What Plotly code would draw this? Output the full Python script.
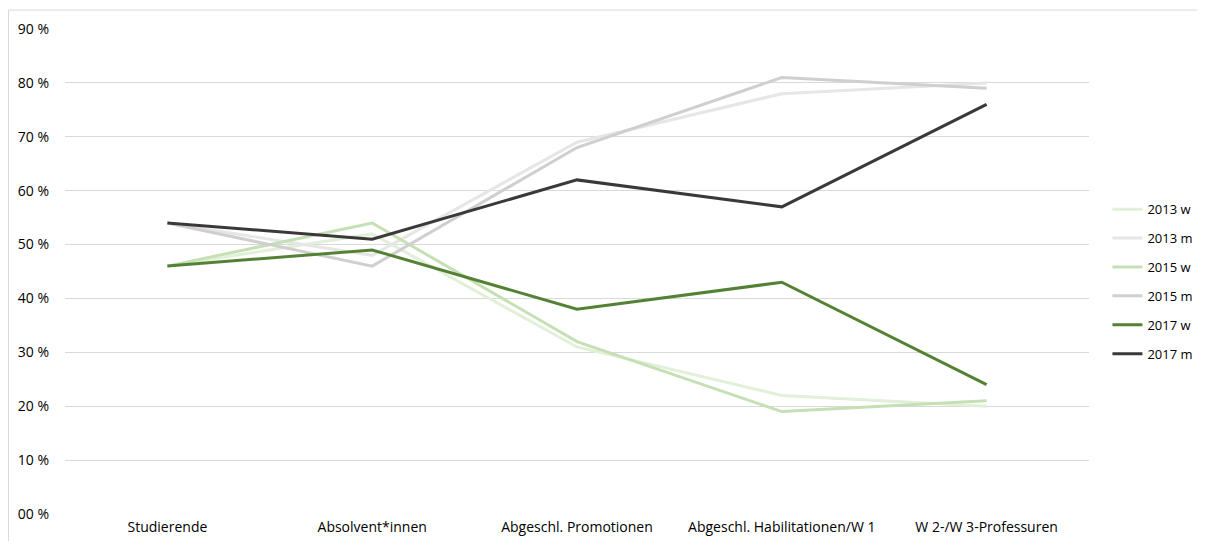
import plotly.graph_objects as go

categories = ["Studierende", "Absolvent*innen", "Abgeschl. Promotionen",
              "Abgeschl. Habilitationen/W 1", "W 2-/W 3-Professuren"]
series_names = ["2013 w", "2013 m", "2015 w", "2015 m", "2017 w", "2017 m"]
v2013w = [46, 52, 31, 22, 20]
v2013m = [54, 48, 69, 78, 80]
v2015w = [46, 54, 32, 19, 21]
v2015m = [54, 46, 68, 81, 79]
v2017w = [46, 49, 38, 43, 24]
v2017m = [54, 51, 62, 57, 76]
tick_vals = [0, 10, 20, 30, 40, 50, 60, 70, 80, 90]
tick_text = ["00 %", "10 %", "20 %", "30 %", "40 %", "50 %", "60 %", "70 %", "80 %", "90 %"]

colors = ["#e2efd9", "#e7e6e6", "#c5e0b4", "#d0cece", "#548235", "#3b3838"]
values = [v2013w, v2013m, v2015w, v2015m, v2017w, v2017m]

fig = go.Figure()
for name, vals, col in zip(series_names, values, colors):
    fig.add_trace(go.Scatter(x=list(range(len(categories))), y=vals, name=name,
                             mode="lines", line=dict(color=col, width=3),
                             legendgroup=name))

font = "Open Sans, Liberation Sans, sans-serif"
fig.update_layout(
    width=1189, height=533,
    margin=dict(l=57, r=108, t=21, b=27, autoexpand=False),
    paper_bgcolor="white", plot_bgcolor="white",
    font=dict(family=font, size=14, color="#000000"),
    xaxis=dict(range=[-0.5, 4.5], tickmode="array",
               tickvals=list(range(len(categories))), ticktext=categories,
               showgrid=False, zeroline=False, showline=False, ticks="",
               automargin=False, ticklabelstandoff=3,
               tickfont=dict(size=14, color="#000000")),
    yaxis=dict(range=[0, 90], tickmode="array", tickvals=tick_vals, ticktext=tick_text,
               showgrid=True, gridcolor="#d9d9d9", gridwidth=1, zeroline=False,
               showline=False, ticks="", ticklabelstandoff=15, automargin=False,
               tickfont=dict(size=14, color="#000000")),
    legend=dict(x=1.018, y=0.479, xanchor="left", yanchor="middle",
                font=dict(size=13, color="#000000"), tracegroupgap=9,
                itemwidth=30, bgcolor="rgba(0,0,0,0)"),
    showlegend=True,
)
fig.add_shape(type="rect", xref="paper", yref="paper",
              x0=-0.0552, x1=1.2, y0=-0.2, y1=1.039,
              line=dict(color="#d9d9d9", width=1), fillcolor="rgba(0,0,0,0)", layer="below")
fig.write_html("out.html")
